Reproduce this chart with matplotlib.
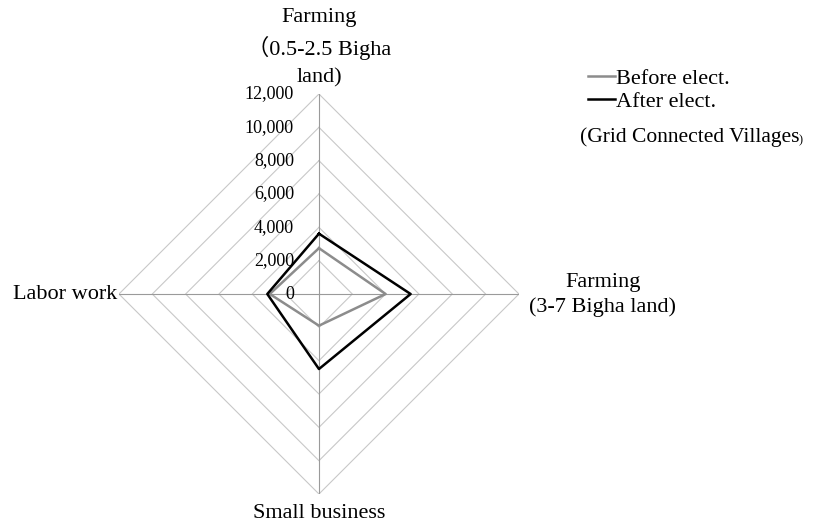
import numpy as np
import matplotlib
matplotlib.use('Agg')
import matplotlib.pyplot as plt

# radar data
categories = ['Farming\n\uff080.5-2.5 Bigha\nland)', 'Farming\n(3-7 Bigha land)',
              'Small business', 'Labor work']
before = [2750, 4000, 1900, 2950]
after = [3620, 5500, 4500, 3100]
levels = [2000, 4000, 6000, 8000, 10000, 12000]
tick_labels = ['2,000', '4,000', '6,000', '8,000', '10,000', '12,000']
rmax = 12000

plt.rcParams['font.family'] = ['Liberation Serif', 'Noto Sans CJK SC']

# axes go clockwise from the top
angles = np.array([0, 0.5, 1.0, 1.5]) * np.pi

def to_xy(vals):
    vals = np.append(vals, vals[0])
    a = np.append(angles, angles[0])
    return vals * np.sin(a), vals * np.cos(a)

fig = plt.figure(figsize=(8.21, 5.26), dpi=100)
ax = fig.add_axes([0.1449, 0.0608, 0.4872, 0.7605])
ax.set_xlim(-rmax, rmax)
ax.set_ylim(-rmax, rmax)
ax.axis('off')

# diamond grid
for lv in levels:
    gx, gy = to_xy([lv] * 4)
    ax.plot(gx, gy, color='#c8c8c8', lw=0.8, zorder=1)
# spokes
for a in angles:
    ax.plot([0, rmax * np.sin(a)], [0, rmax * np.cos(a)], color='#9a9a9a', lw=0.8, zorder=1)

bx, by = to_xy(before)
ax.plot(bx, by, color='#8c8c8c', lw=1.8, label='Before elect.', zorder=3)
axx, ayy = to_xy(after)
ax.plot(axx, ayy, color='black', lw=1.8, label='After elect.', zorder=4)

# value labels along the top axis
for lv, t in zip([0] + levels, ['0'] + tick_labels):
    ax.text(-1500, lv, t, ha='right', va='center', fontsize=13, clip_on=False)

# category labels
for line, y in zip(categories[0].split('\n'), [16560, 14760, 12960]):
    ax.text(0, y, line, ha='center', va='center', fontsize=16, clip_on=False)
ax.text(17040, -60, categories[1], ha='center', va='center', fontsize=16,
        linespacing=1.3, clip_on=False)
ax.text(0, -13140, categories[2], ha='center', va='center', fontsize=16, clip_on=False)
ax.text(-12120, 0, categories[3], ha='right', va='center', fontsize=16, clip_on=False)

fig.legend(loc='upper left', bbox_to_anchor=(0.716, 0.870), frameon=False,
           fontsize=16, handlelength=1.2, handletextpad=0.05, labelspacing=0.1,
           borderpad=0, borderaxespad=0)
note = fig.text(0.706, 0.7395, '(Grid Connected Villages', ha='left', va='center', fontsize=15.5)
ax.annotate(')', xy=(1, 0.05), xycoords=note, ha='left', va='bottom', fontsize=9)

fig.savefig('out.png', dpi=100)
